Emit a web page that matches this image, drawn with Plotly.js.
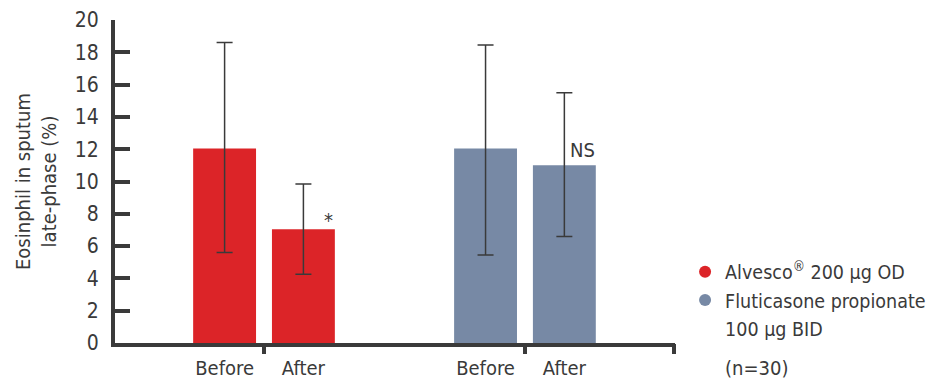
<!DOCTYPE html>
<html><head><meta charset="utf-8">
<script src="https://cdn.plot.ly/plotly-3.0.1.min.js"></script>
<style>body{margin:0;background:#fff}#chart{width:927px;height:380px}</style>
</head><body><div id="chart"></div>
<script>
const timepoints = ["Before", "After"];
const treatments = ["Alvesco<sup>®</sup> 200 µg OD", "Fluticasone propionate<br>100 µg BID"];
const alvescoMean = [12.05, 7.05];
const alvescoUpper = [18.6, 9.85];
const alvescoLower = [5.6, 4.25];
const fluticasoneMean = [12.05, 11.0];
const fluticasoneUpper = [18.45, 15.5];
const fluticasoneLower = [5.45, 6.6];
const significance = ["*", "NS"];
const sampleNote = "(n=30)";
const yTicks = [0, 2, 4, 6, 8, 10, 12, 14, 16, 18, 20];

const colors = ["#dc2428", "#7789a5"];
const FONT = "'DejaVu Sans Condensed', 'Roboto', sans-serif";
const ink = "#3a3a3a";
const off = 0.151, bw = 0.241;
const xmin = -0.571, xmax = 1.575;

const series = [
  {mean: alvescoMean, up: alvescoUpper, lo: alvescoLower},
  {mean: fluticasoneMean, up: fluticasoneUpper, lo: fluticasoneLower}
];
const traces = [];
const tickvals = [], ticktext = [];
series.forEach((s, g) => {
  const xs = timepoints.map((t, i) => g + (i === 0 ? -off : off));
  xs.forEach((x, i) => { tickvals.push(x); ticktext.push(timepoints[i]); });
  traces.push({
    type: "bar", x: xs, y: s.mean, width: bw, showlegend: false,
    marker: {color: colors[g], line: {width: 0}},
    error_y: {type: "data", symmetric: false,
      array: s.mean.map((m, i) => s.up[i] - m),
      arrayminus: s.mean.map((m, i) => m - s.lo[i]),
      color: ink, thickness: 1.5, width: 8},
    hoverinfo: "none"
  });
  treatments[g].split("<br>").forEach((line, k) => {
    traces.push({
      type: "scatter", mode: "markers", x: [null], y: [null], name: line,
      marker: {color: k === 0 ? colors[g] : "rgba(0,0,0,0)", size: 17, symbol: "circle",
        line: {width: 0}}
    });
  });
});
// secondary axis for group separator ticks
traces.push({type: "scatter", x: [xmin], y: [0], xaxis: "x2", mode: "markers",
  marker: {opacity: 0}, showlegend: false, hoverinfo: "none"});

const layout = {
  width: 927, height: 380,
  margin: {l: 115, r: 252, t: 20, b: 37, autoexpand: false},
  paper_bgcolor: "#fff", plot_bgcolor: "#fff",
  font: {family: FONT, color: ink, size: 20},
  showlegend: true,
  legend: {x: 1.018, xanchor: "left", y: 0.28, yanchor: "top",
    font: {family: FONT, size: 19.5, color: ink}, tracegroupgap: 0,
    itemsizing: "constant", bgcolor: "rgba(0,0,0,0)"},
  xaxis: {range: [xmin, xmax], tickvals: tickvals, ticktext: ticktext,
    ticks: "", showline: true, linecolor: ink, linewidth: 4,
    showgrid: false, zeroline: false, fixedrange: true, ticklabelstandoff: 4,
    tickfont: {family: FONT, size: 20, color: ink}},
  xaxis2: {overlaying: "x", side: "bottom", range: [xmin, xmax],
    tickvals: [0, 1, xmax - 0.004], ticks: "outside", ticklen: 10,
    tickwidth: 4, tickcolor: ink, showticklabels: false, showgrid: false,
    zeroline: false, showline: false},
  yaxis: {range: [0, 20], tickvals: yTicks, ticks: "inside", ticklen: 15,
    tickwidth: 4, tickcolor: ink, showline: true, linecolor: ink, linewidth: 4,
    showgrid: false, zeroline: false, ticklabelstandoff: 8,
    tickfont: {family: FONT, size: 21, color: ink},
    title: {text: "Eosinphil in sputum<br>late-phase (%)", standoff: 14,
      font: {family: FONT, size: 20, color: ink}}},
  annotations: [
    {x: off + bw / 2 - 0.025, y: alvescoMean[1] - 0.29, xref: "x", yref: "y",
     text: significance[0], showarrow: false, xanchor: "center", yanchor: "bottom",
     font: {family: FONT, size: 20, color: ink}},
    {x: 1 + off + 0.069, y: fluticasoneMean[1] + 0.1, xref: "x", yref: "y",
     text: significance[1], showarrow: false, xanchor: "center", yanchor: "bottom",
     font: {family: FONT, size: 20, color: ink}},
    {x: 1.085, y: -0.078, xref: "paper", yref: "paper", text: sampleNote,
     showarrow: false, xanchor: "left", yanchor: "middle",
     font: {family: FONT, size: 20, color: ink}}
  ]
};
Plotly.newPlot("chart", traces, layout, {displayModeBar: false, staticPlot: true});
</script></body></html>
